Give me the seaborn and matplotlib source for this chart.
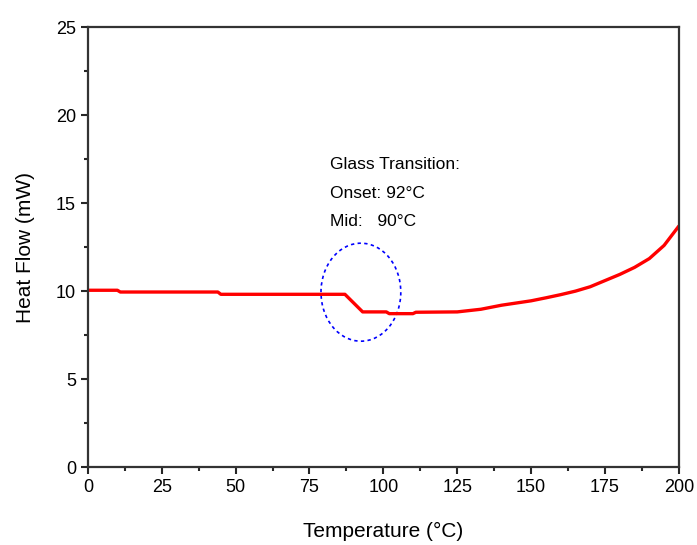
import numpy as np
import pandas as pd
import matplotlib
matplotlib.use("Agg")
import matplotlib.pyplot as plt
from matplotlib.patches import Ellipse
from matplotlib.ticker import MultipleLocator
import seaborn as sns

# DSC curve
temperature = [0, 10, 11, 44, 45, 87, 93, 101, 102, 110, 111, 125, 133, 140,
               150, 155, 160, 165, 170, 175, 180, 185, 190, 195, 200]
heat_flow = [10.05, 10.05, 9.95, 9.95, 9.82, 9.82, 8.82, 8.82, 8.72, 8.72, 8.8,
             8.82, 8.97, 9.2, 9.45, 9.62, 9.8, 10.0, 10.25, 10.6, 10.95,
             11.35, 11.85, 12.6, 13.7]
note_lines = ["Glass Transition:", "Onset: 92°C", "Mid:   90°C"]

sns.set_style("ticks")
plt.rcParams['font.family'] = ['Liberation Sans', 'DejaVu Sans']

df = pd.DataFrame({'T': temperature, 'HF': heat_flow})

fig = plt.figure(figsize=(6.97, 5.45), dpi=100)
ax = fig.add_axes([0.126, 0.143, 0.848, 0.807])
sns.lineplot(data=df, x='T', y='HF', color='red', linewidth=2.4, ax=ax)

ell = Ellipse((92.4, 9.94), 27, 5.57, fill=False, edgecolor='blue',
              linestyle=(0, (2, 2)), linewidth=1.2)
ax.add_patch(ell)

for i, s in enumerate(note_lines):
    ax.text(82, 17.2 - i * 1.63, s, fontsize=12.5, va='center', ha='left',
            color='black')

ax.set_xlim(0, 200)
ax.set_ylim(0, 25)
ax.xaxis.set_major_locator(MultipleLocator(25))
ax.xaxis.set_minor_locator(MultipleLocator(12.5))
ax.yaxis.set_major_locator(MultipleLocator(5))
ax.yaxis.set_minor_locator(MultipleLocator(2.5))
ax.tick_params(which='major', length=5, width=1.5, labelsize=13,
               direction='out', labelcolor='black')
ax.tick_params(which='minor', length=3, width=1.5, direction='out')
for sp in ax.spines.values():
    sp.set_visible(True)
    sp.set_linewidth(1.6)
    sp.set_color('#333333')
ax.set_xlabel("Temperature (°C)", fontsize=15, labelpad=19, color='black')
ax.set_ylabel("Heat Flow (mW)", fontsize=15, labelpad=15, color='black')

fig.savefig("out.png", dpi=100)
